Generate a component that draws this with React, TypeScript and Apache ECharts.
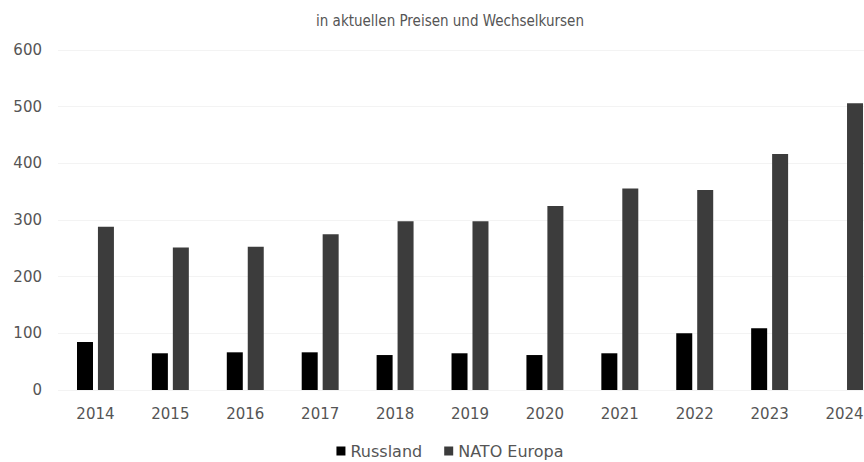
import React, { useEffect, useRef } from "react";
import * as echarts from "echarts";

const title = "in aktuellen Preisen und Wechselkursen";
const years = ["2014", "2015", "2016", "2017", "2018", "2019", "2020", "2021", "2022", "2023", "2024"];
const russland = [84.7, 64.8, 66.5, 66.5, 61.7, 64.8, 61.7, 64.8, 100, 108.8, null];
const natoEuropa = [288, 251.6, 253, 274.7, 298, 298, 324.7, 355.8, 352.9, 416.5, 505.9];
const seriesNames = ["Russland", "NATO Europa"];
const yTicks = { min: 0, max: 600, interval: 100 };

export default function App() {
  const ref = useRef<HTMLDivElement>(null);
  useEffect(() => {
    if (!ref.current) return;
    const chart = echarts.init(ref.current, null, { renderer: "svg" });
    const textColor = "#555555";
    const font = "DejaVu Sans";
    chart.setOption({
      animation: false,
      backgroundColor: "#ffffff",
      title: {
        text: title,
        left: "center",
        top: 8,
        textStyle: {
          fontFamily: "Liberation Sans Narrow, DejaVu Sans Condensed, sans-serif",
          fontSize: 15,
          fontWeight: "normal",
          color: "#555555",
        },
      },
      legend: {
        top: 438,
        left: "center",
        icon: "rect",
        itemWidth: 9,
        itemHeight: 9,
        itemGap: 22,
        textStyle: { fontFamily: font, fontSize: 16, color: textColor },
        data: seriesNames,
      },
      grid: { left: 58, right: 18, top: 50, bottom: 72, containLabel: false },
      xAxis: {
        type: "category",
        data: years,
        axisLine: { show: false },
        axisTick: { show: false },
        axisLabel: { margin: 16, fontFamily: font, fontSize: 15, color: textColor },
      },
      yAxis: {
        type: "value",
        min: yTicks.min,
        max: yTicks.max,
        interval: yTicks.interval,
        axisLine: { show: false },
        axisTick: { show: false },
        splitLine: { lineStyle: { color: "#f3f3f3", width: 1 } },
        axisLabel: { margin: 16, fontFamily: font, fontSize: 15, color: textColor },
      },
      series: [
        {
          name: seriesNames[0],
          type: "bar",
          data: russland,
          barWidth: 16,
          barGap: "31%",
          itemStyle: { color: "#000000" },
        },
        {
          name: seriesNames[1],
          type: "bar",
          data: natoEuropa,
          barWidth: 16,
          barGap: "31%",
          itemStyle: { color: "#3c3c3c" },
        },
      ],
    });
    return () => chart.dispose();
  }, []);
  return (
    <div style={{ position: "fixed", left: 0, top: 0, width: 864, height: 462, overflow: "hidden", background: "#fff" }}>
      <div ref={ref} style={{ width: 900, height: 462 }} />
    </div>
  );
}
